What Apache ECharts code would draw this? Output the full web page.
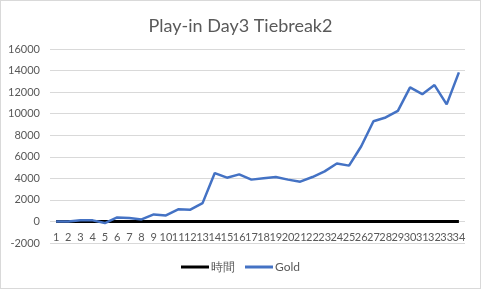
<!DOCTYPE html>
<html><head><meta charset="utf-8">
<script src="https://cdn.jsdelivr.net/npm/echarts@6/dist/echarts.min.js"></script>
<style>html,body{margin:0;padding:0;background:#fff}#c{width:479px;height:287px;border:1px solid #d9d9d9}</style>
</head><body><div id="c"></div>
<script>
const categories = ['1','2','3','4','5','6','7','8','9','10','11','12','13','14','15','16','17','18','19','20','21','22','23','24','25','26','27','28','29','30','31','32','33','34'];
const timeValues = [0,0,0,0,0,0,0,0,0,0,0,0,0,0,0,0,0,0,0,0,0,0,0,0,0,0,0,0,0,0,0,0,0,0];
const goldValues = [0,0,100,100,-150,370,310,190,650,560,1120,1090,1700,4490,4060,4370,3880,4000,4120,3880,3690,4120,4650,5370,5180,6980,9300,9650,10260,12440,11810,12650,10860,13830];
const yTicks = {min:-2000, max:16000, interval:2000};
const titleText = 'Play-in Day3 Tiebreak2';
const seriesNames = ['時間','Gold'];

const font = 'Lato, "Open Sans", sans-serif';
const chart = echarts.init(document.getElementById('c'));
chart.setOption({
  animation:false,
  title:{text:titleText,left:'center',top:11,textStyle:{fontFamily:font,fontSize:18,fontWeight:'normal',color:'#595959'}},
  grid:{left:49,right:15,top:48,bottom:45,containLabel:false},
  legend:{bottom:10,left:'center',itemWidth:28,itemHeight:3,itemGap:10,icon:'rect',
    textStyle:{fontFamily:font,fontSize:12,color:'#595959',padding:[0,0,0,-3]},
    data:seriesNames},
  xAxis:{type:'category',data:categories,boundaryGap:true,
    axisLine:{show:false,onZero:false},axisTick:{show:false},
    axisLabel:{interval:0,hideOverlap:false,margin:-11,fontFamily:font,fontSize:11,color:'#595959'}},
  yAxis:{type:'value',min:yTicks.min,max:yTicks.max,interval:yTicks.interval,
    axisLine:{show:false},axisTick:{show:false},
    splitLine:{lineStyle:{color:'#d9d9d9',width:1}},
    axisLabel:{margin:10,fontFamily:font,fontSize:11,color:'#595959',formatter:v=>String(v)}},
  series:[
    {name:seriesNames[0],type:'line',data:timeValues,symbol:'none',lineStyle:{color:'#000',width:3},itemStyle:{color:'#000'}},
    {name:seriesNames[1],type:'line',data:goldValues,symbol:'none',lineStyle:{color:'#4472c4',width:2.5},itemStyle:{color:'#4472c4'}}
  ]
});
</script></body></html>
